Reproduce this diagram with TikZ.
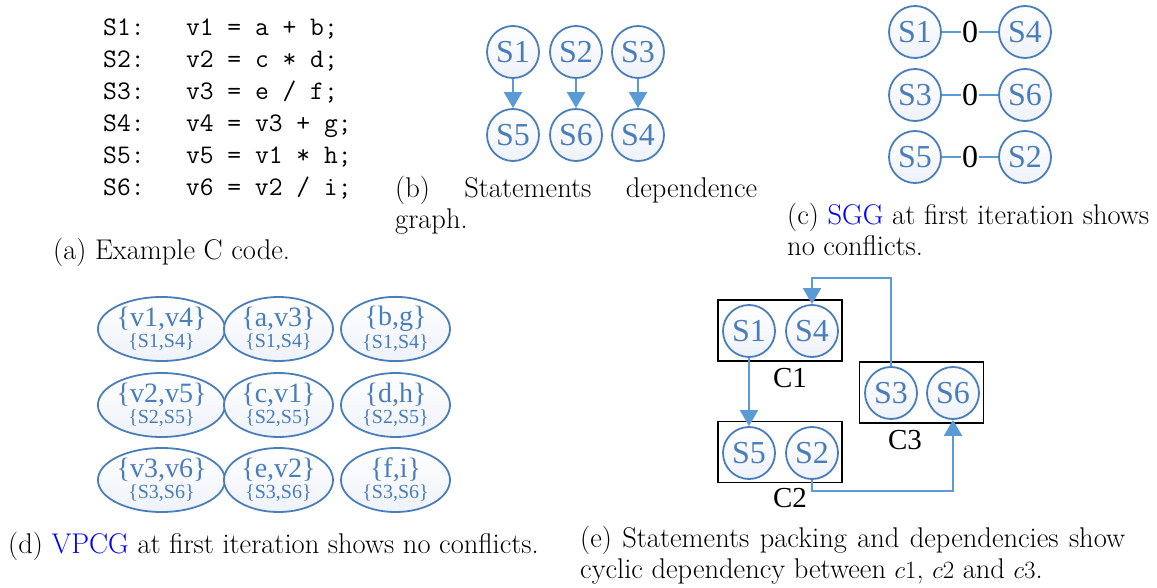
\documentclass[tikz,border=0pt]{standalone}
\usepackage{fontspec}
\newfontfamily\timesf{Liberation Serif}
\usetikzlibrary{arrows.meta,shapes.geometric}
\definecolor{nodeblue}{RGB}{74,126,187}
\definecolor{nodefill}{RGB}{238,242,250}
\definecolor{arrowblue}{RGB}{91,155,213}
\definecolor{linkblue}{RGB}{0,0,255}
\begin{document}
\begin{tikzpicture}[x=1pt,y=-1pt,
  sn/.style={circle, draw=nodeblue, line width=1.8pt, minimum size=52pt, inner sep=0pt,
    top color=white, bottom color=nodefill, text=nodeblue,
    font=\timesf\fontsize{32}{32}\selectfont},
  ve/.style={ellipse, draw=nodeblue, line width=1.8pt, minimum width=109pt, minimum height=64pt,
    inner sep=0pt, top color=white, bottom color=nodefill, text=nodeblue, align=center,
    font=\timesf},
  arr/.style={draw=arrowblue, line width=2.2pt, -{Triangle[length=16pt,width=18pt]}},
  ln/.style={draw=arrowblue, line width=2.2pt},
  zero/.style={inner sep=0.5pt, font=\timesf\fontsize{32}{32}\selectfont},
  cbox/.style={rectangle, draw=black, line width=1.4pt, minimum width=124pt, minimum height=61pt, inner sep=0pt},
  clab/.style={font=\timesf\fontsize{29}{29}\selectfont},
  code/.style={anchor=base west, inner sep=0pt, font=\ttfamily\fontsize{26.8}{32}\selectfont},
  captext/.style={inner sep=0pt, font=\fontsize{28.5}{30.5}\selectfont},
  capbox/.style={captext, anchor=north west, align=justify}
]
\useasboundingbox (0,0) rectangle (1157,588);

% (a) code
\node[code] (l1) at (103,36) {S1:\ \ \ v1 = a + b;};
\node[code] (l2) at (103,68) {S2:\ \ \ v2 = c * d;};
\node[code] (l3) at (103,100) {S3:\ \ \ v3 = e / f;};
\node[code] (l4) at (103,132) {S4:\ \ \ v4 = v3 + g;};
\node[code] (l5) at (103,164) {S5:\ \ \ v5 = v1 * h;};
\node[code] (l6) at (103,196) {S6:\ \ \ v6 = v2 / i;};
\node[captext, anchor=west] (capa) at (53,252) {(a) Example C code.};

% (b) dependence graph
\node[sn] (b1) at (513,52) {S1};
\node[sn] (b2) at (576,52) {S2};
\node[sn] (b3) at (638,52) {S3};
\node[sn] (b5) at (513,135) {S5};
\node[sn] (b6) at (576,135) {S6};
\node[sn] (b4) at (638,135) {S4};
\draw[arr] (b1) -- (b5);
\draw[arr] (b2) -- (b6);
\draw[arr] (b3) -- (b4);
\node[capbox, text width=362pt] (capb) at (395,176) {(b) Statements dependence graph.};

% (c) SGG
\node[sn] (c1) at (915,32) {S1};
\node[sn] (c4) at (1025,32) {S4};
\node[sn] (c3) at (915,95) {S3};
\node[sn] (c6) at (1025,95) {S6};
\node[sn] (c5) at (915,157) {S5};
\node[sn] (c2) at (1025,157) {S2};
\node[zero] (z1) at (970,32) {0};
\node[zero] (z2) at (970,95) {0};
\node[zero] (z3) at (970,157) {0};
\draw[ln] (c1) -- (z1) -- (c4);
\draw[ln] (c3) -- (z2) -- (c6);
\draw[ln] (c5) -- (z3) -- (c2);
\node[capbox, text width=362pt] (capc) at (787,203) {(c) \textcolor{linkblue}{SGG} at first iteration shows no conflicts.};

% (d) VPCG
\newcommand{\vp}[2]{{\fontsize{28}{20}\selectfont\{#1\}}\\[2pt]{\fontsize{20}{20}\selectfont\{#2\}}}
\node[ve] (d11) at (161.5,329) {\vp{v1,v4}{S1,S4}};
\node[ve] (d12) at (278.5,329) {\vp{a,v3}{S1,S4}};
\node[ve] (d13) at (395.5,329) {\vp{b,g}{S1,S4}};
\node[ve] (d21) at (161.5,405) {\vp{v2,v5}{S2,S5}};
\node[ve] (d22) at (278.5,405) {\vp{c,v1}{S2,S5}};
\node[ve] (d23) at (395.5,405) {\vp{d,h}{S2,S5}};
\node[ve] (d31) at (161.5,480) {\vp{v3,v6}{S3,S6}};
\node[ve] (d32) at (278.5,480) {\vp{e,v2}{S3,S6}};
\node[ve] (d33) at (395.5,480) {\vp{f,i}{S3,S6}};
\node[captext, anchor=west] (capd) at (8,546) {(d) \textcolor{linkblue}{VPCG} at first iteration shows no conflicts.};

% (e) packing
\node[cbox] (C1) at (780,330.5) {};
\node[cbox] (C2) at (780,452) {};
\node[cbox] (C3) at (921.5,392.5) {};
\node[sn] (e1) at (749,331) {S1};
\node[sn] (e4) at (812,331) {S4};
\node[sn] (e5) at (749,453) {S5};
\node[sn] (e2) at (812,453) {S2};
\node[sn] (e3) at (891,393) {S3};
\node[sn] (e6) at (953,393) {S6};
\node[clab] (lc1) at (790,378) {C1};
\node[clab] (lc2) at (790,498) {C2};
\node[clab] (lc3) at (905,440) {C3};
\coordinate (t1) at (891,278);
\coordinate (t2) at (812,491);
\draw[arr] (e1) -- (e5);
\draw[arr] (e3) -- (t1) -| (e4);
\draw[arr] (e2) -- (t2) -| (e6);
\node[capbox, text width=545pt] (cape) at (580,526) {(e) Statements packing and dependencies show cyclic dependency between $c1$, $c2$ and $c3$.};
\end{tikzpicture}
\end{document}
